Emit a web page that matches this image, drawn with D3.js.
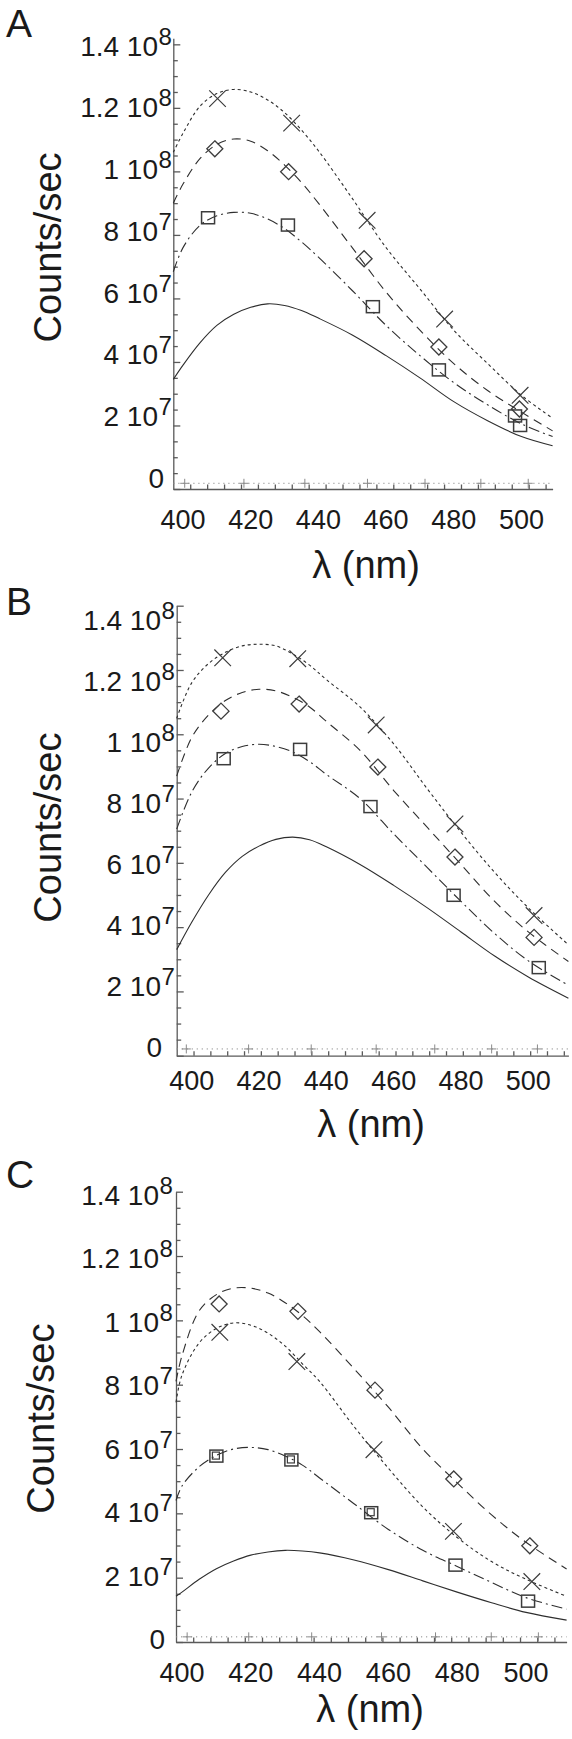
<!DOCTYPE html>
<html><head><meta charset="utf-8">
<script src="https://cdn.jsdelivr.net/npm/d3@7/dist/d3.min.js"></script>
<style>
body{margin:0;background:#fff}
svg{display:block}
text{font-family:"Liberation Sans",Arial,Helvetica,sans-serif;fill:#1a1a1a}
</style>
</head><body>
<svg id="chart" width="572" height="1739"></svg>
<script>
// ---------- DATA (counts/sec in units of 1e7, wavelength in nm) ----------
const xTickValues = [400, 420, 440, 460, 480, 500];
const yTickValues = [0, 2e7, 4e7, 6e7, 8e7, 1e8, 1.2e8, 1.4e8];
const yTickMantissa = ["0", "2", "4", "6", "8", "1", "1.2", "1.4"];
const yTickExponent = ["", "7", "7", "7", "7", "8", "8", "8"];
const panelLetters = ["A", "B", "C"];
const xTitle = "λ (nm)";
const yTitle = "Counts/sec";

// Panel A
const lamA = [397.13,400,405,410,415,420,425,430,435,440,450,460,470,480,490,500,509.2];
const fitA_cross   = [10.6,11.2,12.05,12.45,12.58,12.5,12.25,11.85,11.3,10.65,9.15,7.6,6.3,5.0,3.95,2.95,2.23];
const fitA_diamond = [9.0,9.6,10.4,10.85,11.02,10.95,10.65,10.2,9.65,9.0,7.6,6.2,5.0,3.95,3.1,2.42,1.83];
const fitA_square  = [6.84,7.6,8.3,8.6,8.71,8.68,8.5,8.2,7.78,7.3,6.25,5.15,4.2,3.35,2.65,2.05,1.65];
const fitA_solid   = [3.45,3.9,4.6,5.15,5.5,5.72,5.83,5.78,5.62,5.38,4.85,4.2,3.5,2.75,2.15,1.65,1.36];
const ptA_cross_lam = [410.2,432.1,454.4,477.3,499.6],  ptA_cross_val = [12.29,11.52,8.46,5.35,2.95];
const ptA_diam_lam  = [409.4,431.2,453.5,475.6,499.4],  ptA_diam_val  = [10.71,9.99,7.25,4.47,2.52];
const ptA_sq_lam    = [407.4,431.0,456.1,475.6,499.6,498.1], ptA_sq_val = [8.54,8.31,5.74,3.75,2.0,2.3];
const ptA_plus_lam  = [400.5,418,436,454.5,471.5,488,502], ptA_plus_val = [0.18,0.18,0.18,0.18,0.18,0.18,0.18];
const baseA_lam = [397.13,509.2], baseA_val = [0.18,0.18];

// Panel B
const lamB = [395.54,400,405,410,415,420,425,430,435,440,450,460,470,480,490,500,511.9];
const fitB_cross   = [10.5,11.6,12.2,12.55,12.75,12.8,12.75,12.5,12.15,11.7,10.85,9.7,8.3,6.95,5.7,4.6,3.45];
const fitB_diamond = [8.7,9.9,10.6,11.05,11.3,11.4,11.35,11.15,10.85,10.4,9.5,8.25,7.1,5.95,4.8,3.85,2.93];
const fitB_square  = [7.05,8.2,8.95,9.4,9.62,9.69,9.62,9.45,9.15,8.75,8.0,6.9,5.85,4.8,3.8,2.95,2.19];
const fitB_solid   = [3.3,4.15,5.0,5.7,6.2,6.52,6.73,6.8,6.72,6.5,5.95,5.3,4.6,3.85,3.1,2.45,1.79];
const ptB_cross_lam = [409.2,431.5,454.8,478.2,501.7], ptB_cross_val = [12.38,12.35,10.29,7.21,4.36];
const ptB_diam_lam  = [408.7,431.9,455.3,478.2,501.7], ptB_diam_val  = [10.72,10.94,8.98,6.18,3.68];
const ptB_sq_lam    = [409.5,432.2,453.1,477.8,503.1], ptB_sq_val    = [9.24,9.53,7.75,4.99,2.74];
const ptB_plus_lam  = [398.4,416.9,435.5,454.8,472.2,489.1,502.7], ptB_plus_val = [0.21,0.21,0.21,0.21,0.21,0.21,0.21];
const baseB_lam = [395.54,511.9], baseB_val = [0.21,0.21];

// Panel C
const lamC = [398.26,400,405,410,415,420,425,430,435,440,450,460,470,480,490,500,511.8];
const fitC_cross   = [7.45,8.3,9.3,9.75,9.92,9.85,9.6,9.2,8.65,8.1,6.7,5.4,4.2,3.25,2.5,1.95,1.42];
const fitC_diamond = [8.1,8.9,10.3,10.8,11.0,11.0,10.85,10.55,10.15,9.65,8.5,7.3,6.0,4.95,3.95,3.1,2.27];
const fitC_square  = [4.4,4.85,5.45,5.8,6.0,6.05,5.98,5.78,5.5,5.1,4.3,3.5,2.85,2.35,1.85,1.38,1.02];
const fitC_solid   = [1.42,1.55,1.95,2.28,2.52,2.7,2.8,2.85,2.83,2.77,2.55,2.25,1.9,1.55,1.22,0.92,0.68];
const ptC_cross_lam = [411.0,433.4,455.8,478.9,501.7], ptC_cross_val = [9.63,8.72,5.98,3.44,1.88];
const ptC_diam_lam  = [410.8,433.7,456.1,479.0,501.1], ptC_diam_val  = [10.51,10.28,7.83,5.07,2.99];
const ptC_sq_lam    = [410.0,431.8,455.0,479.5,500.6], ptC_sq_val    = [5.78,5.66,4.02,2.39,1.27];
const ptC_sqIn_lam  = [410.0,431.8,455.0], ptC_sqIn_val = [5.78,5.66,4.02];
const ptC_plus_lam  = [401.5,419.4,437.7,458,473.7,489.9,503.6], ptC_plus_val = [0.16,0.16,0.16,0.16,0.16,0.16,0.16];
const baseC_lam = [398.26,511.8], baseC_val = [0.16,0.16];

// ---------- LAYOUT ----------
const layout = [
  {xr:[173.3,552.6], y0:489,    yTop:38.3,   yMax:1.419e8, lab0:478,  lab14:45.5, labX:158, zeroX:164, xLabY:519,  xTitle:[366,578],  yTitle:[61,247.5],  letterY:37},
  {xr:[176.7,568.4], y0:1055.7, yTop:605.7,  yMax:1.4e8,   lab0:1047, lab14:620,  labX:161, zeroX:162, xLabY:1080, xTitle:[371,1137], yTitle:[61,827.6],  letterY:615},
  {xr:[176,566.6],   y0:1642,   yTop:1191.7, yMax:1.4e8,   lab0:1639, lab14:1195, labX:159, zeroX:165, xLabY:1672, xTitle:[370,1722], yTitle:[54,1418.6], letterY:1188}
];

const zip = (a, b) => a.map((v, i) => [v, b[i]]);
const panels = [
  {lam: lamA, fits: {cross: fitA_cross, diamond: fitA_diamond, square: fitA_square, solid: fitA_solid},
   pts: {cross: zip(ptA_cross_lam, ptA_cross_val), diamond: zip(ptA_diam_lam, ptA_diam_val), square: zip(ptA_sq_lam, ptA_sq_val), squareIn: [], plus: zip(ptA_plus_lam, ptA_plus_val)},
   base: zip(baseA_lam, baseA_val)},
  {lam: lamB, fits: {cross: fitB_cross, diamond: fitB_diamond, square: fitB_square, solid: fitB_solid},
   pts: {cross: zip(ptB_cross_lam, ptB_cross_val), diamond: zip(ptB_diam_lam, ptB_diam_val), square: zip(ptB_sq_lam, ptB_sq_val), squareIn: [], plus: zip(ptB_plus_lam, ptB_plus_val)},
   base: zip(baseB_lam, baseB_val)},
  {lam: lamC, fits: {cross: fitC_cross, diamond: fitC_diamond, square: fitC_square, solid: fitC_solid},
   pts: {cross: zip(ptC_cross_lam, ptC_cross_val), diamond: zip(ptC_diam_lam, ptC_diam_val), square: zip(ptC_sq_lam, ptC_sq_val), squareIn: zip(ptC_sqIn_lam, ptC_sqIn_val), plus: zip(ptC_plus_lam, ptC_plus_val)},
   base: zip(baseC_lam, baseC_val)}
];

const dashes = {cross: "3,3", diamond: "9,6", square: "11,4,2,4", solid: null};
const AXIS = "#5a5a5a", LINE = "#2e2e2e", MARK = "#3c3c3c";
const U = 1e7;

const svg = d3.select("#chart");

panels.forEach((D, i) => {
  const P = layout[i];
  const g = svg.append("g");
  const x = d3.scaleLinear().domain([D.lam[0], D.lam[D.lam.length - 1]]).range(P.xr);
  const y = d3.scaleLinear().domain([0, P.yMax]).range([P.y0, P.yTop]);
  const yl = d3.scaleLinear().domain([0, 1.4e8]).range([P.lab0, P.lab14]);

  // x axis (ticks point inward)
  const xd = x.domain();
  const xt = d3.range(xd[0] + 5, xd[1], 5);
  const gx = g.append("g").attr("transform", `translate(0,${P.y0})`)
    .call(d3.axisTop(x).tickValues(xt).tickSize(4.5).tickSizeOuter(0).tickFormat(""));
  gx.selectAll("path,line").attr("stroke", AXIS).attr("stroke-width", 1.3);

  // y axis (ticks point inward)
  const yt = d3.range(0, 1.4e8 + 1, 5e6);
  const gy = g.append("g").attr("transform", `translate(${P.xr[0]},0)`)
    .call(d3.axisRight(y).tickValues(yt).tickSize(4.5).tickSizeOuter(0).tickFormat(""));
  gy.selectAll("path,line").attr("stroke", AXIS).attr("stroke-width", 1.3);
  gy.selectAll(".tick line").attr("x2", d => (Math.round(d / 5e6) % 4 === 0) ? 7 : 4.5);

  // x tick labels
  g.selectAll(".xl").data(xTickValues).join("text")
    .attr("x", d => x(d)).attr("y", P.xLabY + 9.7)
    .attr("text-anchor", "middle").attr("font-size", 27).text(d => d);

  // y tick labels (mantissa + "10" with superscript exponent)
  yTickValues.forEach((v, k) => {
    const cy = yl(v);
    if (yTickExponent[k] === "") {
      g.append("text").attr("x", P.zeroX).attr("y", cy + 10).attr("text-anchor", "end")
        .attr("font-size", 28).text(yTickMantissa[k]);
    } else {
      g.append("text").attr("x", P.labX).attr("y", cy + 10).attr("text-anchor", "end")
        .attr("font-size", 28).text(yTickMantissa[k] + " 10");
      g.append("text").attr("x", P.labX + 0.5).attr("y", cy - 1).attr("text-anchor", "start")
        .attr("font-size", 24).text(yTickExponent[k]);
    }
  });

  // titles
  g.append("text").attr("x", P.xTitle[0]).attr("y", P.xTitle[1]).attr("text-anchor", "middle")
    .attr("font-size", 38).text(xTitle);
  g.append("text").attr("transform", `translate(${P.yTitle[0]},${P.yTitle[1]}) rotate(-90)`)
    .attr("text-anchor", "middle").attr("font-size", 38).text(yTitle);
  g.append("text").attr("x", 6).attr("y", P.letterY).attr("font-size", 39).text(panelLetters[i]);

  const line = d3.line().x(d => x(d[0])).y(d => y(d[1] * U)).curve(d3.curveCatmullRom.alpha(0.5));

  // dotted baseline at the "+" level
  g.append("path").attr("d", line(D.base)).attr("fill", "none")
    .attr("stroke", "#8c8c8c").attr("stroke-width", 1).attr("stroke-dasharray", "1.2,3.8");

  // fitted curves
  ["solid", "square", "diamond", "cross"].forEach(key => {
    const pts = zip(D.lam, D.fits[key]);
    g.append("path").attr("d", line(pts)).attr("fill", "none")
      .attr("stroke", LINE).attr("stroke-width", 1.1)
      .attr("stroke-dasharray", dashes[key]);
  });

  // markers
  const mk = g.append("g").attr("fill", "none");
  mk.selectAll(".px").data(D.pts.plus).join("path")
    .attr("transform", d => `translate(${x(d[0])},${y(d[1] * U)})`)
    .attr("d", "M-4.5,0H4.5M0,-4.5V4.5").attr("stroke", "#8a8a8a").attr("stroke-width", 1);
  mk.selectAll(".sq").data(D.pts.square).join("rect")
    .attr("x", d => x(d[0]) - 6.5).attr("y", d => y(d[1] * U) - 6)
    .attr("width", 13).attr("height", 12)
    .attr("stroke", MARK).attr("stroke-width", 1.5);
  mk.selectAll(".sqi").data(D.pts.squareIn).join("rect")
    .attr("x", d => x(d[0]) - 4).attr("y", d => y(d[1] * U) - 4)
    .attr("width", 7).attr("height", 7)
    .attr("stroke", MARK).attr("stroke-width", 1.2);
  mk.selectAll(".dm").data(D.pts.diamond).join("path")
    .attr("transform", d => `translate(${x(d[0])},${y(d[1] * U)})`)
    .attr("d", "M0,-8L8,0L0,8L-8,0Z").attr("stroke", MARK).attr("stroke-width", 1.3);
  mk.selectAll(".cr").data(D.pts.cross).join("path")
    .attr("transform", d => `translate(${x(d[0])},${y(d[1] * U)})`)
    .attr("d", "M-8.3,-8.3L8.3,8.3M-8.3,8.3L8.3,-8.3").attr("stroke", MARK).attr("stroke-width", 1.2);
});
</script>
</body></html>
